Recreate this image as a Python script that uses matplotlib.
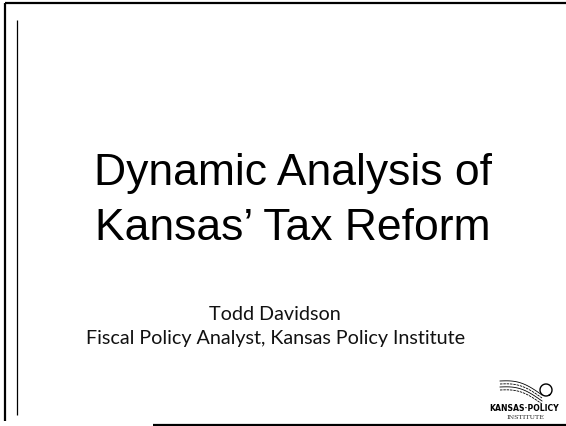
import numpy as np
import matplotlib
matplotlib.use("Agg")
import matplotlib.pyplot as plt

W, H = 566, 426
title_lines = ["Dynamic Analysis of", "Kansas\u2019 Tax Reform"]
subtitle_lines = ["Todd Davidson", "Fiscal Policy Analyst, Kansas Policy Institute"]
logo_lines = ["KANSAS\u00b7POLICY", "INSTITUTE"]

fig = plt.figure(figsize=(W / 100, H / 100), dpi=100)
ax = fig.add_axes([0, 0, 1, 1])
ax.set_xlim(0, W)
ax.set_ylim(H, 0)
ax.axis("off")

# borders (scanned slide frame)
ax.plot([5, W], [3, 3], color="black", lw=1.6, solid_capstyle="butt")
ax.plot([5, 5], [3, 421], color="black", lw=1.6, solid_capstyle="butt")
ax.plot([17, 17], [20, 415], color="black", lw=0.9, solid_capstyle="butt")
ax.plot([153, W], [424.5, 424.5], color="black", lw=1.6, solid_capstyle="butt")

# title
title_y = [185, 240]
for t, y in zip(title_lines, title_y):
    ax.text(293, y, t, ha="center", va="baseline", fontsize=32,
            family="Liberation Sans", color="black")

# subtitle
sub_x = [275, 276]
sub_y = [320, 344]
for t, x, y in zip(subtitle_lines, sub_x, sub_y):
    ax.text(x, y, t, ha="center", va="baseline", fontsize=14.2,
            family="Lato", color="#111111")

# logo swoosh
s = np.linspace(0, 1, 60)
for k, off in enumerate([0, 3, 6, 9]):
    xs = 500 + 42 * s
    ys = 381 + off + 14 * s - 5 * np.sin(np.pi * s)
    ax.plot(xs, ys, color="black", lw=0.6, ls=(0, (3, 1)) if k % 2 else "-")
th = np.linspace(0.3 * np.pi, 2.3 * np.pi, 60)
ax.plot(546 + 6 * np.cos(th), 390 + 6 * np.sin(th), color="black", lw=1.0)
ax.text(524, 411, logo_lines[0], ha="center", va="baseline", fontsize=5.6,
        family="DejaVu Sans", weight="bold", color="black")
ax.text(526, 419, logo_lines[1], ha="center", va="baseline", fontsize=4.6,
        family="DejaVu Serif", color="#333333")

fig.savefig("out.png", dpi=100)
